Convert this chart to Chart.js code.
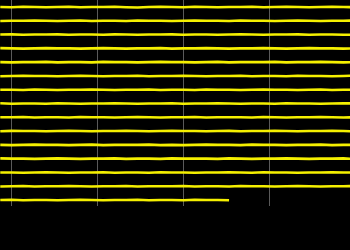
<!DOCTYPE html>
<html>
<head>
<meta charset="utf-8">
<script src="https://cdn.jsdelivr.net/npm/chart.js@4.4.0/dist/chart.umd.min.js"></script>
<style>
  html, body { margin: 0; padding: 0; background: #000; }
  canvas { display: block; background: #000; }
</style>
</head>
<body>
<canvas id="helicorder" width="350" height="250"></canvas>
<script>
// minutes within each trace row
var times = [-2, 0, 2, 4, 6, 8, 10, 12, 14, 16, 18, 20, 22, 24, 26, 28, 30,
             32, 34, 36, 38, 40, 42, 44, 46, 48, 50, 52, 54, 56, 58, 60];

// grid minute marks
var minuteMarks = [0, 15, 30, 45];

// small wiggle of each trace (counts), one row per hour
var row01 = [0, 1, -1, 0, 1, 0, -1, 1, 0, 0, -1, 1, 2, 0, -1, 0, 1, -1, 0, 1, 0, 0, -1, 1, 0, -1, 0, 1, 0, -1, 0, 1];
var row02 = [1, 0, 0, -1, 0, 1, 0, -1, 1, 0, 0, 1, -1, 0, 0, 1, 0, -1, 0, 0, 1, -1, 0, 0, 1, 0, -1, 0, 1, 0, 0, -1];
var row03 = [0, -1, 1, 0, 0, -1, 1, 0, 0, 1, -1, 0, 1, 0, 0, -1, 1, 0, 0, 1, 0, -1, 0, 1, 0, 0, -1, 1, 0, 0, 1, 0];
var row04 = [-1, 0, 1, 0, -1, 0, 0, 1, 0, -1, 0, 1, 0, 0, -1, 1, 0, 0, -1, 0, 1, 0, 0, -1, 0, 1, 0, -1, 0, 0, 1, 0];
var row05 = [0, 1, 0, 0, -1, 1, 0, 0, 1, -1, 0, 0, 1, 0, -1, 0, 0, 1, 0, -1, 1, 0, 0, 0, -1, 1, 0, 0, -1, 0, 1, 0];
var row06 = [1, 0, -1, 0, 0, 1, 0, -1, 0, 1, 0, 0, -1, 1, 0, 0, -1, 0, 1, 0, 0, -1, 1, 0, 0, 1, -1, 0, 0, 1, 0, -1];
var row07 = [0, 0, 1, -1, 0, 1, 0, 0, -1, 0, 1, 0, 0, -1, 1, 0, 0, 1, -1, 0, 0, 1, 0, -1, 0, 0, 1, 0, -1, 1, 0, 0];
var row08 = [-1, 1, 0, 0, 1, -1, 0, 1, 0, 0, -1, 0, 1, 0, 0, -1, 1, 0, 0, -1, 0, 1, 0, 0, 1, -1, 0, 0, 1, 0, -1, 0];
var row09 = [0, 0, -1, 1, 0, 0, 1, -1, 0, 0, 1, 0, -1, 0, 1, 0, 0, -1, 1, 0, 0, 0, 1, -1, 0, 1, 0, 0, -1, 0, 1, 0];
var row10 = [1, -1, 0, 0, 1, 0, -1, 0, 1, 0, 0, -1, 0, 1, 0, -1, 0, 0, 1, 0, -1, 1, 0, 0, -1, 0, 1, 0, 0, -1, 0, 1];
var row11 = [0, 1, 0, -1, 0, 0, 1, 0, -1, 1, 0, 0, 0, -1, 1, 0, 1, 0, -1, 0, 0, 1, -1, 0, 0, 1, 0, 0, -1, 1, 0, 0];
var row12 = [-1, 0, 0, 1, 0, -1, 0, 1, 0, 0, -1, 1, 0, 0, 1, -1, 0, 0, 0, 1, -1, 0, 1, 0, 0, -1, 0, 1, 0, 0, -1, 1];
var row13 = [0, 0, 1, 0, -1, 0, 1, 0, 0, -1, 1, 0, 0, 1, -1, 0, 0, 1, 0, 0, -1, 0, 1, -1, 0, 0, 1, 0, 0, -1, 0, 1];
var row14 = [1, 0, -1, 1, 0, 0, -1, 0, 1, 0, 0, -1, 1, 0, 0, 0, -1, 1, 0, 0, 1, -1, 0, 0, 1, 0, -1, 0, 1, 0, 0, -1];
var row15 = [0, -1, 1, 0, 0, 1, 0, -1, 0, 1, 0, 0, -1, 1, 0, 0, 1, -1, 0, 0, 1];

var rows = [row01, row02, row03, row04, row05, row06, row07, row08,
            row09, row10, row11, row12, row13, row14, row15];

var datasets = rows.map(function (row, i) {
  return {
    data: row.map(function (v, j) { return { x: times[j], y: i + v * 0.018 }; }),
    borderColor: '#f5f000',
    borderWidth: 2.6,
    pointRadius: 0,
    tension: 0,
    fill: false
  };
});

var ctx = document.getElementById('helicorder').getContext('2d');
new Chart(ctx, {
  type: 'line',
  data: { datasets: datasets },
  options: {
    responsive: false,
    animation: false,
    devicePixelRatio: 1,
    layout: { padding: { left: 0, right: 0, top: 0, bottom: 44 } },
    plugins: { legend: { display: false }, tooltip: { enabled: false } },
    scales: {
      x: {
        type: 'linear',
        min: -2.045,
        max: 59.14,
        z: 1,
        afterBuildTicks: function (axis) {
          axis.ticks = minuteMarks.map(function (m) { return { value: m }; });
        },
        grid: { color: '#5a5a5a', lineWidth: 1, drawTicks: false },
        border: { display: false },
        ticks: { display: false }
      },
      y: {
        display: false,
        reverse: true,
        min: -0.508,
        max: 14.435
      }
    }
  }
});
</script>
</body>
</html>
